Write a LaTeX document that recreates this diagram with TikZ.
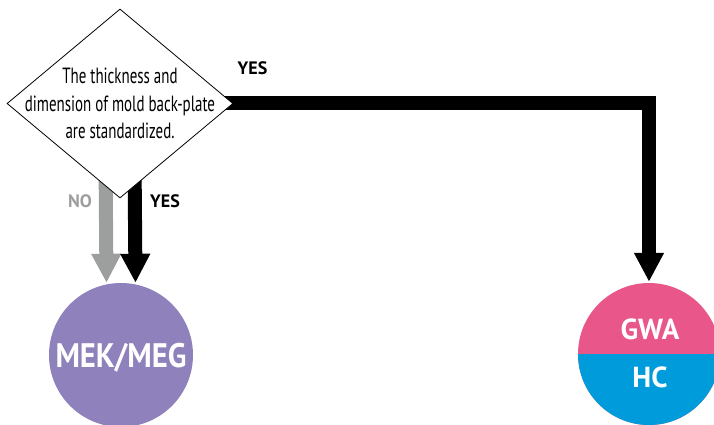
\documentclass[tikz,border=0pt]{standalone}
\usepackage{fontspec}
\setmainfont{PT Sans}
\newfontfamily\condfont[FakeStretch=0.68]{PT Sans}
\newfontfamily\condbold[FakeStretch=0.9]{PT Sans Bold}
\usetikzlibrary{arrows.meta, shapes.geometric, backgrounds}
\definecolor{noGray}{HTML}{9D9E9E}
\definecolor{mekPurple}{HTML}{8E81BC}
\definecolor{gwaPink}{HTML}{E8568A}
\definecolor{hcBlue}{HTML}{009BDB}

\begin{document}
\begin{tikzpicture}[x=1pt, y=-1pt,
    flow/.style={line width=14pt, -{Triangle[length=29pt, width=28pt]}},
    decision/.style={diamond, draw, line width=0.8pt, fill=white, inner sep=0pt,
      minimum width=226pt, minimum height=189pt},
    answer/.style={font=\fontsize{18}{20}\selectfont\bfseries, anchor=base},
    result/.style={circle, inner sep=0pt, minimum size=144pt},
    rtext/.style={text=white, anchor=base, font=\fontsize{29}{31}\selectfont\bfseries}]
  \clip (0,0) rectangle (714,425);

  % Entscheidung
  \node[decision] (dia) at (120,103.5) {};
  \node[align=center, font=\condfont\fontsize{22}{27.5}\selectfont] (question) at (dia.center)
    {The thickness and\\dimension of mold back-plate\\are standardized.};

  % Ergebnisse
  \node[result, fill=mekPurple] (mek) at (121,355) {};
  \node[rtext, font=\condbold\fontsize{34}{36}\selectfont] (mektext) at (121,367) {MEK/MEG};
  \node[result, minimum size=142pt, fill=gwaPink,
    path picture={\fill[hcBlue] (path picture bounding box.west)
      rectangle (path picture bounding box.south east);}] (gwa) at (649,354) {};
  \node[rtext] (gwatext) at (650,339) {GWA};
  \node[rtext] (hctext) at (650,387) {HC};

  % Pfeile
  \begin{scope}[on background layer]
    \draw[flow, noGray] ([xshift=-14.5pt, yshift=40pt]dia.south) -- ([xshift=-14.5pt]mek.north);
    \draw[flow, black] ([xshift=14.5pt, yshift=40pt]dia.south) -- ([xshift=14.5pt]mek.north);
    \draw[flow, black] (dia.center) -| ([yshift=1pt]gwa.north);
  \end{scope}

  % Antworten
  \node[answer] (yesright) at (252.5,75) {YES};
  \node[answer, text=noGray] (nolabel) at (80,207) {NO};
  \node[answer] (yesdown) at (165,207) {YES};
\end{tikzpicture}
\end{document}
